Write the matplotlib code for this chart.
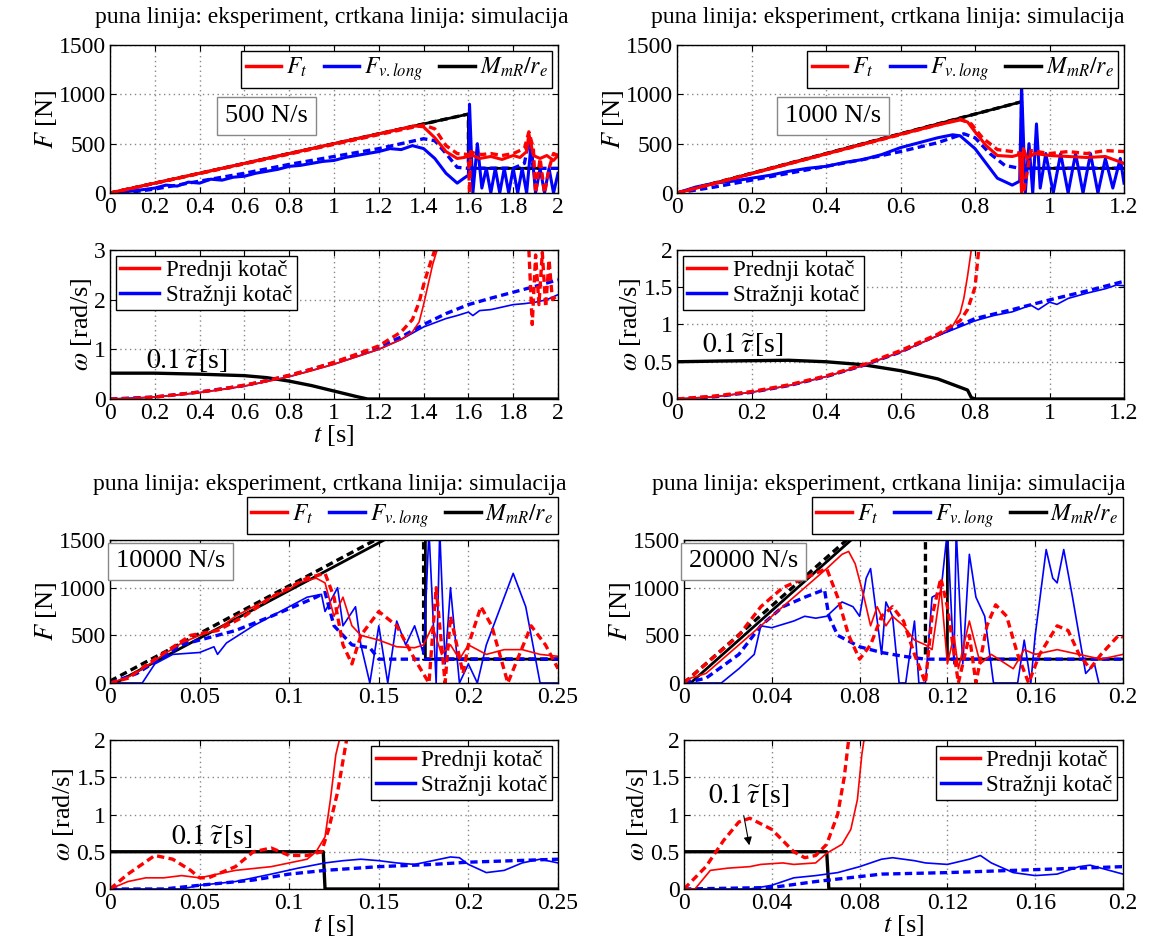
import matplotlib
matplotlib.use('Agg')
import matplotlib.pyplot as plt
from matplotlib.lines import Line2D
import numpy as np

nan = np.nan

plt.rcParams['font.family'] = ['Liberation Serif', 'DejaVu Serif']
plt.rcParams['mathtext.fontset'] = 'stix'
plt.rcParams['font.size'] = 17

# ---------------- 500 N/s ----------------
t_ft_exp_1 = [0, 0.1, 0.2, 0.3, 0.4, 0.5, 0.6, 0.7, 0.8, 0.9, 1.0, 1.1, 1.2, 1.3, 1.36, 1.4, 1.45, 1.5,
              1.55, 1.58, 1.62, 1.65, 1.7, 1.75, 1.8, 1.83, 1.86, 1.87, 1.89, 1.92, 1.95, 1.98, 2.0]
ft_exp_1 = [0, 50, 100, 150, 200, 250, 300, 350, 400, 450, 500, 550, 600, 650, 680, 670, 560, 420,
            350, 360, 380, 350, 370, 340, 380, 360, 420, 600, 380, 350, 380, 330, 380]
t_ft_sim_1 = [0, 1.4, 1.45, 1.5, 1.55, 1.6, 1.605, 1.61, 1.63, 1.66, 1.7, 1.75, 1.8, 1.85, 1.87,
              1.89, 1.9, 1.92, 1.94, 1.96, 1.98, 2.0]
ft_sim_1 = [0, 690, 650, 480, 400, 390, 0, 420, 400, 390, 400, 380, 400, 450, 620, 450, 0, 350, 0,
            250, 400, 380]
t_fv_exp_1 = [0, 0.1, 0.2, 0.25, 0.3, 0.35, 0.4, 0.45, 0.5, 0.55, 0.6, 0.65, 0.7, 0.75, 0.8, 0.85,
              0.9, 0.95, 1.0, 1.05, 1.1, 1.15, 1.2, 1.25, 1.3, 1.35, 1.4, 1.45,
              1.5, 1.55, 1.58, 1.6, 1.605, 1.62, 1.64, 1.66, 1.68, 1.7, 1.72, 1.74, 1.76, 1.78, 1.8,
              1.82, 1.84, 1.86, 1.88, 1.9, 1.92, 1.94, 1.96, 1.98, 2.0]
fv_exp_1 = [0, 20, 50, 80, 70, 110, 100, 140, 130, 160, 170, 200, 220, 240, 270, 280, 300, 320, 330,
            360, 380, 400, 420, 450, 440, 480, 450, 350,
            200, 100, 150, 180, 900, 0, 500, 50, 250, 0, 250, 0, 250, 0, 250, 0, 250, 0, 500, 0, 250,
            0, 250, 0, 200]
t_fv_sim_1 = [0, 0.1, 0.2, 0.4, 0.6, 0.8, 1.0, 1.2, 1.3, 1.4, 1.45, 1.5, 1.55, 1.6, 1.8, 1.85, 1.87,
              1.89, 1.92, 2.0]
fv_sim_1 = [0, 10, 40, 120, 200, 290, 370, 450, 500, 550, 530, 400, 260, 250, 250, 300, 530, 250,
            250, 250]
t_m_exp_1 = [0, 1.6, 1.6, 1.93]
m_exp_1 = [0, 800, 250, 250]
t_m_sim_1 = [0, 1.6, 1.6, 1.93]
m_sim_1 = [0, 800, 250, 250]

t_tau_1 = [0, 0.2, 0.4, 0.6, 0.7, 0.8, 0.9, 1.0, 1.1, 1.15, 2.0]
tau_1 = [0.52, 0.52, 0.5, 0.47, 0.43, 0.36, 0.27, 0.16, 0.05, 0, 0]
t_fr_exp_1 = [0, 0.1, 0.2, 0.3, 0.4, 0.5, 0.6, 0.7, 0.8, 0.9, 1.0, 1.1, 1.2, 1.3, 1.35, 1.38, 1.4,
              1.42, 1.44, 1.46]
fr_exp_1 = [0, 0.01, 0.04, 0.08, 0.13, 0.19, 0.26, 0.35, 0.45, 0.57, 0.7, 0.85, 1.0, 1.2, 1.35,
            1.55, 1.9, 2.3, 2.7, 3.0]
t_fr_sim_1 = [0, 0.1, 0.2, 0.3, 0.4, 0.5, 0.6, 0.7, 0.8, 0.9, 1.0, 1.1, 1.2, 1.3, 1.35, 1.38, 1.4,
              1.42, 1.45, nan, 1.87, 1.885, 1.9, 1.915, 1.93, 1.945, 1.96, 1.975, 2.0]
fr_sim_1 = [0, 0.01, 0.04, 0.09, 0.14, 0.2, 0.28, 0.37, 0.48, 0.6, 0.74, 0.9, 1.07, 1.35, 1.6, 1.95,
            2.3, 2.6, 3.0, nan, 3.0, 1.5, 2.9, 1.9, 2.95, 1.85, 2.8, 2.0, 2.1]
t_rr_exp_1 = [0, 0.2, 0.4, 0.6, 0.8, 1.0, 1.2, 1.3, 1.4, 1.5, 1.55, 1.6, 1.62, 1.65, 1.7, 1.75, 1.8,
              1.85, 1.9, 1.95, 2.0]
rr_exp_1 = [0, 0.04, 0.13, 0.26, 0.45, 0.7, 1.0, 1.2, 1.45, 1.62, 1.68, 1.75, 1.68, 1.78, 1.8, 1.85,
            1.9, 1.92, 1.95, 2.0, 2.1]
t_rr_sim_1 = [0, 0.2, 0.4, 0.6, 0.8, 1.0, 1.2, 1.3, 1.4, 1.5, 1.6, 1.7, 1.8, 1.9, 2.0]
rr_sim_1 = [0, 0.04, 0.14, 0.27, 0.47, 0.73, 1.05, 1.25, 1.5, 1.72, 1.9, 2.03, 2.15, 2.27, 2.4]

# ---------------- 1000 N/s ----------------
t_ft_exp_3 = [0, 0.1, 0.2, 0.3, 0.4, 0.5, 0.6, 0.7, 0.76, 0.78, 0.8, 0.83, 0.86, 0.9, 0.92, 0.925,
              0.93, 0.94, 0.96, 1.0, 1.05, 1.1, 1.15, 1.2]
ft_exp_3 = [0, 95, 195, 295, 395, 495, 595, 690, 740, 720, 620, 480, 380, 370, 390, 0, 450, 350, 400,
            380, 370, 360, 370, 300]
t_ft_sim_3 = [0, 0.76, 0.79, 0.82, 0.86, 0.9, 0.925, 0.93, 0.95, 1.0, 1.05, 1.1, 1.15, 1.2]
ft_sim_3 = [0, 750, 700, 560, 440, 420, 400, 0, 430, 400, 420, 400, 430, 420]
t_fv_exp_3 = [0, 0.05, 0.1, 0.15, 0.2, 0.25, 0.3, 0.35, 0.4, 0.45, 0.5, 0.55, 0.6, 0.65, 0.7, 0.74,
              0.76, 0.8, 0.83, 0.86, 0.9, 0.92, 0.925, 0.935, 0.945, 0.955, 0.965, 0.975, 0.99, 1.01,
              1.03, 1.05, 1.07, 1.09, 1.11, 1.13, 1.15, 1.17, 1.19, 1.2]
fv_exp_3 = [0, 60, 100, 120, 150, 180, 220, 250, 270, 310, 340, 390, 460, 510, 560, 590, 580, 450,
            300, 150, 80, 120, 1100, 0, 500, 0, 700, 50, 400, 0, 400, 0, 400, 0, 400, 0, 350, 50,
            350, 100]
t_fv_sim_3 = [0, 0.1, 0.2, 0.3, 0.4, 0.5, 0.6, 0.7, 0.77, 0.8, 0.84, 0.88, 0.92, 1.2]
fv_sim_3 = [0, 60, 130, 200, 270, 340, 420, 510, 600, 560, 400, 280, 250, 250]
t_m_exp_3 = [0, 0.925, 0.925, 1.2]
m_exp_3 = [0, 925, 250, 250]
t_m_sim_3 = [0, 0.925, 0.925, 1.2]
m_sim_3 = [0, 925, 250, 250]

t_tau_3 = [0, 0.12, 0.3, 0.4, 0.5, 0.6, 0.7, 0.78, 0.79, 0.8, 1.2]
tau_3 = [0.5, 0.51, 0.52, 0.5, 0.46, 0.38, 0.27, 0.12, 0.02, 0, 0]
t_fr_exp_3 = [0, 0.1, 0.2, 0.3, 0.4, 0.5, 0.6, 0.7, 0.74, 0.76, 0.77, 0.78, 0.79]
fr_exp_3 = [0, 0.03, 0.09, 0.18, 0.3, 0.45, 0.63, 0.85, 0.98, 1.15, 1.35, 1.65, 2.0]
t_fr_sim_3 = [0, 0.1, 0.2, 0.3, 0.4, 0.5, 0.6, 0.7, 0.76, 0.78, 0.8, 0.805, 0.81]
fr_sim_3 = [0, 0.04, 0.1, 0.19, 0.31, 0.46, 0.65, 0.87, 1.05, 1.2, 1.5, 1.75, 2.0]
t_rr_exp_3 = [0, 0.1, 0.2, 0.3, 0.4, 0.5, 0.6, 0.7, 0.8, 0.85, 0.9, 0.95, 0.97, 1.0, 1.02, 1.05, 1.1,
              1.15, 1.18, 1.2]
rr_exp_3 = [0, 0.03, 0.09, 0.18, 0.3, 0.45, 0.63, 0.85, 1.05, 1.12, 1.17, 1.26, 1.2, 1.3, 1.27, 1.35,
            1.42, 1.48, 1.53, 1.52]
t_rr_sim_3 = [0, 0.1, 0.2, 0.3, 0.4, 0.5, 0.6, 0.7, 0.8, 0.9, 1.0, 1.1, 1.2]
rr_sim_3 = [0, 0.03, 0.09, 0.18, 0.3, 0.45, 0.63, 0.86, 1.08, 1.2, 1.33, 1.45, 1.58]

# ---------------- 10000 N/s ----------------
t_ft_exp_5 = [0, 0.01, 0.02, 0.03, 0.04, 0.05, 0.06, 0.07, 0.08, 0.09, 0.1, 0.105, 0.115, 0.12,
              0.125, 0.13, 0.135, 0.14, 0.15, 0.16, 0.17, 0.175, 0.18, 0.185, 0.19, 0.195, 0.2,
              0.21, 0.22, 0.23, 0.24, 0.25]
ft_exp_5 = [0, 60, 170, 300, 420, 500, 560, 700, 800, 900, 980, 1050, 1100, 1050, 700, 900, 600,
            500, 450, 380, 370, 400, 600, 300, 400, 250, 400, 300, 350, 350, 300, 280]
t_ft_sim_5 = [0, 0.01, 0.025, 0.045, 0.06, 0.075, 0.09, 0.11, 0.12, 0.125, 0.13, 0.135, 0.14, 0.15,
              0.16, 0.17, 0.178, 0.182, 0.187, 0.19, 0.197, 0.2, 0.207, 0.213, 0.222, 0.235, 0.243,
              0.25]
ft_sim_5 = [0, 50, 250, 500, 550, 700, 900, 1100, 1150, 900, 400, 200, 500, 750, 600, 250, 0, 1000,
            0, 700, 100, 400, 800, 600, 0, 600, 400, 150]
t_fv_exp_5 = [0, 0.018, 0.025, 0.035, 0.05, 0.058, 0.06, 0.065, 0.08, 0.1, 0.11, 0.118, 0.12, 0.127,
              0.13, 0.137, 0.14, 0.145, 0.15, 0.155, 0.16, 0.165, 0.17, 0.175, 0.178, 0.182, 0.184,
              0.187, 0.19, 0.195, 0.2, 0.205, 0.21, 0.225, 0.232, 0.24, 0.25]
fv_exp_5 = [0, 0, 200, 300, 320, 380, 300, 420, 600, 800, 900, 930, 750, 1000, 600, 800, 400, 0,
            600, 0, 650, 400, 600, 300, 1600, 0, 1600, 200, 1000, 0, 200, 0, 400, 1150, 800, 0, 0]
t_fv_sim_5 = [0, 0.015, 0.04, 0.07, 0.09, 0.115, 0.12, 0.125, 0.135, 0.145, 0.15, 0.25]
fv_sim_5 = [0, 100, 400, 550, 700, 900, 950, 600, 400, 370, 250, 250]
t_m_exp_5 = [0.003, 0.163, nan, 0.176, 0.176, 0.25]
m_exp_5 = [0, 1600, nan, 1600, 250, 250]
t_m_sim_5 = [0, 0.16, nan, 0.175, 0.175, 0.25]
m_sim_5 = [20, 1620, nan, 1600, 250, 250]

t_tau_5 = [0, 0.119, 0.12, 0.25]
tau_5 = [0.5, 0.5, 0, 0]
t_fr_exp_5 = [0, 0.01, 0.02, 0.03, 0.04, 0.05, 0.06, 0.07, 0.09, 0.1, 0.11, 0.115, 0.12, 0.123,
              0.126, 0.128]
fr_exp_5 = [0, 0.1, 0.15, 0.15, 0.18, 0.15, 0.2, 0.25, 0.3, 0.35, 0.4, 0.5, 0.7, 1.2, 1.8, 2.0]
t_fr_sim_5 = [0, 0.01, 0.025, 0.035, 0.045, 0.05, 0.055, 0.07, 0.08, 0.09, 0.1, 0.11, 0.118, 0.122,
              0.127, 0.132]
fr_sim_5 = [0, 0.2, 0.45, 0.4, 0.25, 0.15, 0.15, 0.3, 0.5, 0.55, 0.45, 0.45, 0.5, 0.8, 1.3, 2.0]
t_rr_exp_5 = [0, 0.04, 0.05, 0.07, 0.09, 0.105, 0.12, 0.13, 0.14, 0.15, 0.16, 0.17, 0.18, 0.19,
              0.195, 0.2, 0.21, 0.22, 0.23, 0.24, 0.25]
rr_exp_5 = [0, 0, 0.05, 0.1, 0.2, 0.28, 0.35, 0.38, 0.4, 0.38, 0.35, 0.33, 0.38, 0.43, 0.42, 0.33,
            0.22, 0.25, 0.35, 0.4, 0.35]
t_rr_sim_5 = [0, 0.03, 0.05, 0.08, 0.1, 0.12, 0.15, 0.18, 0.2, 0.25]
rr_sim_5 = [0, 0, 0.05, 0.12, 0.2, 0.25, 0.3, 0.33, 0.36, 0.4]

# ---------------- 20000 N/s ----------------
t_ft_exp_7 = [0, 0.01, 0.02, 0.035, 0.05, 0.065, 0.072, 0.075, 0.078, 0.082, 0.085, 0.088, 0.092,
              0.095, 0.1, 0.105, 0.11, 0.113, 0.117, 0.12, 0.123, 0.125, 0.13, 0.135, 0.14, 0.15,
              0.155, 0.16, 0.17, 0.18, 0.19, 0.2]
ft_exp_7 = [30, 100, 300, 600, 900, 1200, 1350, 1380, 1250, 900, 600, 800, 600, 700, 600, 450, 400,
            350, 1000, 200, 500, 150, 650, 200, 300, 150, 350, 300, 350, 300, 250, 300]
t_ft_sim_7 = [0, 0.01, 0.025, 0.035, 0.045, 0.055, 0.065, 0.07, 0.075, 0.08, 0.085, 0.09, 0.095,
              0.1, 0.105, 0.11, 0.113, 0.117, 0.12, 0.125, 0.13, 0.133, 0.138, 0.142, 0.147, 0.152,
              0.157, 0.162, 0.17, 0.175, 0.18, 0.185, 0.19, 0.198, 0.2]
ft_sim_7 = [0, 200, 500, 800, 1000, 1100, 1200, 900, 500, 250, 400, 700, 800, 650, 300, 0, 700, 1100,
            800, 0, 500, 0, 600, 820, 700, 300, 0, 300, 600, 550, 300, 150, 300, 500, 480]
t_fv_exp_7 = [0, 0.017, 0.025, 0.032, 0.035, 0.04, 0.05, 0.055, 0.06, 0.065, 0.072, 0.077, 0.08,
              0.083, 0.085, 0.09, 0.092, 0.095, 0.098, 0.101, 0.105, 0.107, 0.11, 0.113, 0.117, 0.12,
              0.123, 0.124, 0.127, 0.13, 0.133, 0.137, 0.141, 0.152, 0.155, 0.158, 0.16, 0.165,
              0.168, 0.17, 0.173, 0.177, 0.18, 0.183, 0.187, 0.189]
fv_exp_7 = [0, 0, 150, 300, 600, 580, 650, 700, 680, 700, 850, 800, 700, 1100, 1200, 300, 850, 700,
            0, 0, 650, 0, 0, 900, 950, 1600, 200, 1600, 200, 1350, 900, 700, 0, 0, 450, 0, 500,
            1400, 1100, 1050, 1400, 900, 500, 100, 200, 0]
t_fv_sim_7 = [0, 0.01, 0.025, 0.035, 0.045, 0.055, 0.064, 0.066, 0.07, 0.08, 0.09, 0.1, 0.11, 0.2]
fv_sim_7 = [0, 50, 300, 600, 800, 900, 980, 700, 500, 380, 320, 280, 250, 250]
t_m_exp_7 = [0.003, 0.081, nan, 0.12, 0.12, 0.2]
m_exp_7 = [0, 1600, nan, 1600, 250, 250]
t_m_sim_7 = [0, 0.079, nan, 0.11, 0.11]
m_sim_7 = [0, 1600, nan, 1600, 250]

t_tau_7 = [0, 0.065, 0.066, 0.2]
tau_7 = [0.5, 0.5, 0, 0]
t_fr_exp_7 = [0, 0.005, 0.012, 0.02, 0.03, 0.035, 0.045, 0.05, 0.06, 0.065, 0.072, 0.076, 0.079,
              0.081, 0.082]
fr_exp_7 = [0, 0, 0.25, 0.28, 0.3, 0.33, 0.35, 0.33, 0.35, 0.48, 0.6, 0.8, 1.2, 1.8, 2.0]
t_fr_sim_7 = [0, 0.01, 0.018, 0.025, 0.03, 0.04, 0.05, 0.055, 0.06, 0.065, 0.07, 0.073, 0.075]
fr_sim_7 = [0, 0.3, 0.65, 0.9, 0.95, 0.8, 0.5, 0.42, 0.45, 0.6, 1.0, 1.5, 2.0]
t_rr_exp_7 = [0, 0.03, 0.04, 0.05, 0.06, 0.07, 0.08, 0.09, 0.095, 0.105, 0.11, 0.12, 0.13, 0.135,
              0.14, 0.15, 0.16, 0.17, 0.18, 0.185, 0.19, 0.2]
rr_exp_7 = [0, 0, 0.05, 0.15, 0.18, 0.22, 0.3, 0.4, 0.42, 0.38, 0.35, 0.33, 0.4, 0.45, 0.35, 0.22,
            0.18, 0.2, 0.3, 0.32, 0.28, 0.2]
t_rr_sim_7 = [0, 0.04, 0.06, 0.09, 0.12, 0.15, 0.18, 0.2]
rr_sim_7 = [0, 0.02, 0.1, 0.2, 0.22, 0.25, 0.28, 0.3]

rates = ['500 N/s', '1000 N/s', '10000 N/s', '20000 N/s']
title_txt = 'puna linija: eksperiment, crtkana linija: simulacija'

W, H = 1149, 938
fig = plt.figure(figsize=(W / 100, H / 100), dpi=100)


def rect(x0, x1, y0, y1):
    return [x0 / W, 1 - y1 / H, (x1 - x0) / W, (y1 - y0) / H]


def style(ax):
    ax.grid(True, linestyle=(0, (1, 2.5)), color='#888888', linewidth=1.0)
    ax.tick_params(direction='in', top=True, right=True, length=4, labelsize=17, pad=3)
    for s in ax.spines.values():
        s.set_linewidth(1.0)


DASH = (0, (2.2, 1.3))
axF = [fig.add_axes(rect(110, 558, 45, 193)), fig.add_axes(rect(677, 1124, 45, 193)),
       fig.add_axes(rect(110, 558, 540, 683)), fig.add_axes(rect(684, 1123, 540, 683))]
axW = [fig.add_axes(rect(110, 558, 250, 399)), fig.add_axes(rect(677, 1124, 250, 399)),
       fig.add_axes(rect(110, 558, 740, 889)), fig.add_axes(rect(684, 1123, 740, 889))]

F_data = [
    (t_ft_exp_1, ft_exp_1, t_ft_sim_1, ft_sim_1, t_fv_exp_1, fv_exp_1, t_fv_sim_1, fv_sim_1,
     t_m_exp_1, m_exp_1, t_m_sim_1, m_sim_1),
    (t_ft_exp_3, ft_exp_3, t_ft_sim_3, ft_sim_3, t_fv_exp_3, fv_exp_3, t_fv_sim_3, fv_sim_3,
     t_m_exp_3, m_exp_3, t_m_sim_3, m_sim_3),
    (t_ft_exp_5, ft_exp_5, t_ft_sim_5, ft_sim_5, t_fv_exp_5, fv_exp_5, t_fv_sim_5, fv_sim_5,
     t_m_exp_5, m_exp_5, t_m_sim_5, m_sim_5),
    (t_ft_exp_7, ft_exp_7, t_ft_sim_7, ft_sim_7, t_fv_exp_7, fv_exp_7, t_fv_sim_7, fv_sim_7,
     t_m_exp_7, m_exp_7, t_m_sim_7, m_sim_7),
]
W_data = [
    (t_tau_1, tau_1, t_fr_exp_1, fr_exp_1, t_fr_sim_1, fr_sim_1, t_rr_exp_1, rr_exp_1, t_rr_sim_1, rr_sim_1),
    (t_tau_3, tau_3, t_fr_exp_3, fr_exp_3, t_fr_sim_3, fr_sim_3, t_rr_exp_3, rr_exp_3, t_rr_sim_3, rr_sim_3),
    (t_tau_5, tau_5, t_fr_exp_5, fr_exp_5, t_fr_sim_5, fr_sim_5, t_rr_exp_5, rr_exp_5, t_rr_sim_5, rr_sim_5),
    (t_tau_7, tau_7, t_fr_exp_7, fr_exp_7, t_fr_sim_7, fr_sim_7, t_rr_exp_7, rr_exp_7, t_rr_sim_7, rr_sim_7),
]

xlims = [2, 1.2, 0.25, 0.2]
xticks = [np.arange(0, 2.01, 0.2), np.arange(0, 1.21, 0.2), np.arange(0, 0.251, 0.05), np.arange(0, 0.201, 0.04)]
xticklabels = [['0', '0.2', '0.4', '0.6', '0.8', '1', '1.2', '1.4', '1.6', '1.8', '2'],
               ['0', '0.2', '0.4', '0.6', '0.8', '1', '1.2'],
               ['0', '0.05', '0.1', '0.15', '0.2', '0.25'],
               ['0', '0.04', '0.08', '0.12', '0.16', '0.2']]
wmax = [3, 2, 2, 2]
lw_exp = [2.2, 2.2, 1.2, 1.2]

for i in range(4):
    ax = axF[i]
    d = F_data[i]
    ax.plot(d[8], d[9], color='k', lw=2.0)
    ax.plot(d[10], d[11], color='k', lw=2.4, linestyle=DASH)
    ax.plot(d[6], d[7], color='b', lw=2.4, linestyle=DASH)
    ax.plot(d[4], d[5], color='b', lw=lw_exp[i])
    ax.plot(d[2], d[3], color='r', lw=2.4, linestyle=DASH)
    ax.plot(d[0], d[1], color='r', lw=lw_exp[i])
    ax.set_xlim(0, xlims[i])
    ax.set_ylim(0, 1500)
    ax.set_xticks(xticks[i])
    ax.set_xticklabels(xticklabels[i])
    ax.set_yticks([0, 500, 1000, 1500])
    ax.set_ylabel(r'$F$ [N]', fontsize=19, labelpad=0)
    style(ax)
    handles = [Line2D([], [], color='r', lw=2.5), Line2D([], [], color='b', lw=2.5),
               Line2D([], [], color='k', lw=2.5)]
    labels = [r'$F_t$', r'$F_{v.long}$', r'$M_{mR}/r_e$']
    if i < 2:
        leg = ax.legend(handles, labels, loc='upper right', ncol=3, borderaxespad=0.25,
                        handlelength=1.5, handletextpad=0.2, columnspacing=0.7,
                        fancybox=False, edgecolor='k', framealpha=1, fontsize=17,
                        borderpad=0.2)
    else:
        leg = ax.legend(handles, labels, loc='lower right', bbox_to_anchor=(1.0, 1.04), ncol=3,
                        borderaxespad=0.0, handlelength=1.5, handletextpad=0.2,
                        columnspacing=0.7, fancybox=False, edgecolor='k', framealpha=1,
                        fontsize=17, borderpad=0.2)
    leg.get_frame().set_linewidth(1.0)
    if i < 2:
        bx, by = 0.35, 0.52
    else:
        bx, by = 0.135, 0.85
    ax.text(bx, by, rates[i], transform=ax.transAxes, ha='center', va='center', fontsize=19,
            bbox=dict(boxstyle='square,pad=0.3', facecolor='white', edgecolor='#888888', lw=1.0),
            zorder=5)

tau_pos = [(0.16, 0.79), (0.066, 0.74), (0.034, 0.71), (0.011, 1.26)]
for i in range(4):
    ax = axW[i]
    d = W_data[i]
    ax.plot(d[0], d[1], color='k', lw=2.4)
    ax.plot(d[8], d[9], color='b', lw=2.4, linestyle=DASH)
    ax.plot(d[6], d[7], color='b', lw=1.2)
    ax.plot(d[4], d[5], color='r', lw=2.4, linestyle=DASH)
    ax.plot(d[2], d[3], color='r', lw=1.2)
    ax.set_xlim(0, xlims[i])
    ax.set_ylim(0, wmax[i])
    ax.set_xticks(xticks[i])
    ax.set_xticklabels(xticklabels[i])
    if wmax[i] == 3:
        ax.set_yticks([0, 1, 2, 3])
    else:
        ax.set_yticks([0, 0.5, 1, 1.5, 2])
        ax.set_yticklabels(['0', '0.5', '1', '1.5', '2'])
    ax.set_ylabel(r'$\omega$ [rad/s]', fontsize=19, labelpad=0)
    if i != 1:
        ax.set_xlabel(r'$t$ [s]', fontsize=19, labelpad=-1)
    style(ax)
    handles = [Line2D([], [], color='r', lw=2.5), Line2D([], [], color='b', lw=2.5)]
    labels = ['Prednji kotač', 'Stražnji kotač']
    loc = 'upper left' if i < 2 else 'upper right'
    leg = ax.legend(handles, labels, loc=loc, borderaxespad=0.25, handlelength=1.7,
                    handletextpad=0.3, fancybox=False, edgecolor='k', framealpha=1,
                    fontsize=16.5, borderpad=0.2, labelspacing=0.15)
    leg.get_frame().set_linewidth(1.0)
    ax.text(tau_pos[i][0], tau_pos[i][1], r'$0.1\,\widetilde{\tau}\,$[s]', fontsize=20,
            ha='left', va='center')

axW[3].annotate('', xy=(0.03, 0.55), xytext=(0.027, 1.02),
                arrowprops=dict(arrowstyle='-|>', color='k', lw=0.8, mutation_scale=12))

fig.text(332 / W, 1 - 18 / H, title_txt, ha='center', va='center', fontsize=17)
fig.text(888 / W, 1 - 18 / H, title_txt, ha='center', va='center', fontsize=17)
fig.text(330 / W, 1 - 484 / H, title_txt, ha='center', va='center', fontsize=17)
fig.text(889 / W, 1 - 484 / H, title_txt, ha='center', va='center', fontsize=17)

fig.savefig('out.png', dpi=100)
